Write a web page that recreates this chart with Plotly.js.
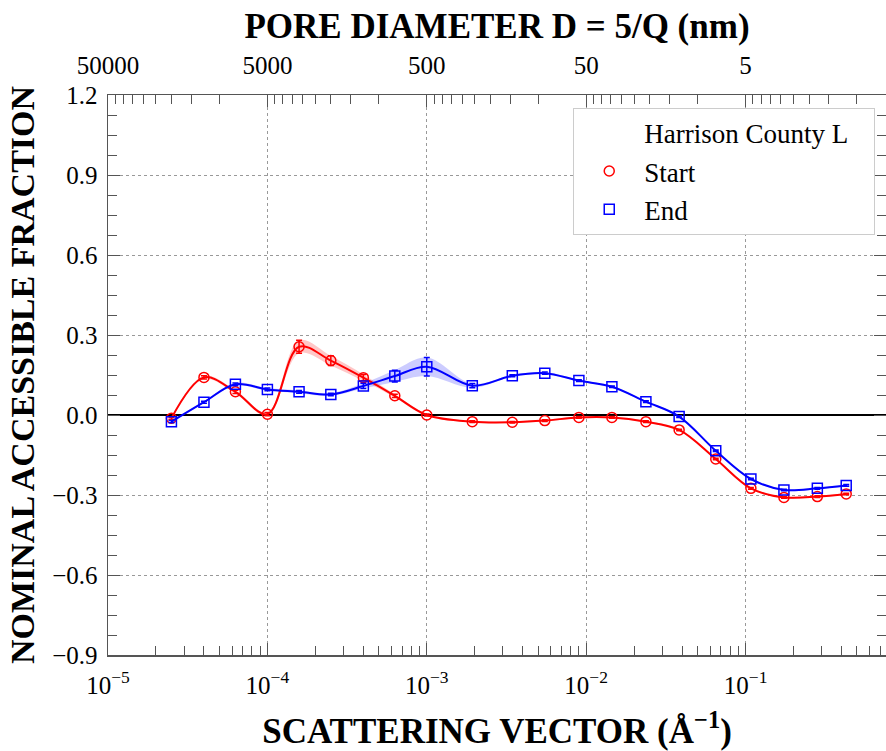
<!DOCTYPE html>
<html>
<head>
<meta charset="utf-8">
<script src="https://cdn.plot.ly/plotly-3.0.1.min.js"></script>
<style>
  html, body { margin: 0; padding: 0; background: #fff; }
  #chart { width: 886px; height: 751px; }
</style>
</head>
<body>
<div id="chart"></div>
<script>
// Scattering vector Q (1/Å) of each measured point
const qValues = [2.5e-5, 4.0e-5, 6.3e-5, 1.0e-4, 1.58e-4, 2.5e-4, 4.0e-4, 6.3e-4, 1.0e-3,
                 1.93e-3, 3.44e-3, 5.5e-3, 9.0e-3, 1.45e-2, 2.37e-2, 3.83e-2, 6.5e-2,
                 0.108, 0.174, 0.282, 0.428];

// Nominal accessible fraction, start of the experiment
const startValues = [-0.012, 0.141, 0.087, 0.003, 0.256, 0.204, 0.140, 0.072, 0.000,
                     -0.025, -0.027, -0.021, -0.009, -0.009, -0.025, -0.056, -0.165,
                     -0.275, -0.309, -0.306, -0.296];
const startErr = [0.004, 0.006, 0.006, 0.006, 0.024, 0.018, 0.012, 0.006, 0.004,
                  0.003, 0.003, 0.003, 0.003, 0.003, 0.003, 0.003, 0.003,
                  0.003, 0.003, 0.003, 0.003];

// Nominal accessible fraction, end of the experiment
const endValues = [-0.025, 0.048, 0.115, 0.096, 0.087, 0.077, 0.109, 0.146, 0.181,
                   0.110, 0.147, 0.157, 0.129, 0.106, 0.050, -0.006, -0.134,
                   -0.240, -0.281, -0.275, -0.264];
const endErr = [0.004, 0.004, 0.005, 0.005, 0.005, 0.005, 0.010, 0.022, 0.035,
                0.008, 0.004, 0.004, 0.003, 0.003, 0.003, 0.003, 0.003,
                0.003, 0.003, 0.003, 0.003];

// Axis labelling
const qTickVals = [1e-5, 1e-4, 1e-3, 1e-2, 1e-1];
const qTickText = ['10<sup>−5</sup>', '10<sup>−4</sup>', '10<sup>−3</sup>', '10<sup>−2</sup>', '10<sup>−1</sup>'];
const poreTickText = ['50000', '5000', '500', '50', '5'];
const legendHeader = 'Harrison County L';
const seriesNames = ['Start', 'End'];

const RED = '#ff0000';
const BLUE = '#0000ff';
const xRange = [-5, -0.119];

// minor ticks: bottom axis at 2..9 per decade, top axis at D = 10/k of each decade
const bottomMinor = [];
const topMinor = [];
for (let n = -5; n <= 0; n++) {
  for (let k = 2; k <= 9; k++) {
    bottomMinor.push(k * Math.pow(10, n));
    topMinor.push(Math.pow(10, n) * 10 / k);
  }
}

function band(y, err, fillcolor) {
  const lo = y.map((v, i) => v - err[i]);
  const hi = y.map((v, i) => v + err[i]);
  return [
    { x: qValues, y: lo, mode: 'lines', line: { width: 0, shape: 'spline' },
      showlegend: false, hoverinfo: 'skip' },
    { x: qValues, y: hi, mode: 'lines', line: { width: 0, shape: 'spline' },
      fill: 'tonexty', fillcolor: fillcolor, showlegend: false, hoverinfo: 'skip' }
  ];
}

function series(y, err, color, symbol) {
  return {
    x: qValues, y: y, mode: 'lines+markers', showlegend: false,
    line: { color: color, width: 2, shape: 'spline' },
    marker: { symbol: symbol, size: 10, color: color, line: { color: color, width: 1.5 } },
    error_y: { type: 'data', array: err, visible: true, color: color, thickness: 1.5, width: 3 }
  };
}

const data = [
  ...band(startValues, startErr, 'rgba(255,0,0,0.22)'),
  ...band(endValues, endErr, 'rgba(0,0,255,0.2)'),
  series(startValues, startErr, RED, 'circle-open'),
  series(endValues, endErr, BLUE, 'square-open'),
  // legend entries
  { x: [null], y: [null], xaxis: 'x2', mode: 'markers', name: legendHeader + '\u00a0\u00a0\u00a0',
    marker: { color: 'rgba(0,0,0,0)', size: 1 } },
  { x: [null], y: [null], mode: 'markers', name: seriesNames[0],
    marker: { symbol: 'circle-open', size: 10, color: RED, line: { color: RED, width: 1.5 } } },
  { x: [null], y: [null], mode: 'markers', name: seriesNames[1],
    marker: { symbol: 'square-open', size: 10, color: BLUE, line: { color: BLUE, width: 1.5 } } }
];

const axisColor = '#555';
const gridColor = '#999';
const font = 'Liberation Serif, Times New Roman, serif';

const layout = {
  width: 886, height: 751,
  margin: { l: 108, r: 0, t: 95, b: 96 },
  paper_bgcolor: '#fff', plot_bgcolor: '#fff',
  font: { family: font, color: '#000', size: 25 },
  showlegend: true,
  legend: {
    x: 0.598, y: 0.977, xanchor: 'left', yanchor: 'top',
    traceorder: 'normal',
    bgcolor: '#fff', bordercolor: '#ccc', borderwidth: 1,
    font: { family: font, size: 27, color: '#000' },
    itemwidth: 60
  },
  xaxis: {
    type: 'log', range: xRange,
    tickmode: 'array', tickvals: qTickVals, ticktext: qTickText,
    ticks: 'inside', ticklen: 12, tickwidth: 1, tickcolor: axisColor,
    ticklabelstandoff: 7,
    showline: true, linecolor: axisColor, linewidth: 1.5, mirror: false,
    showgrid: true, gridcolor: gridColor, gridwidth: 1, griddash: 'dot',
    zeroline: false,
    minor: { tickmode: 'array', tickvals: bottomMinor, ticks: 'inside', ticklen: 9,
             tickwidth: 1, tickcolor: axisColor, showgrid: false },
    tickfont: { size: 25 },
    title: { text: 'SCATTERING VECTOR (Å<sup>−1</sup>)', standoff: 23,
             font: { size: 35, weight: 'bold' } },
    automargin: false
  },
  xaxis2: {
    type: 'log', range: xRange, overlaying: 'x', side: 'top',
    tickmode: 'array', tickvals: qTickVals, ticktext: poreTickText,
    ticks: 'inside', ticklen: 12, tickwidth: 1, tickcolor: axisColor,
    ticklabelstandoff: 10,
    showline: true, linecolor: axisColor, linewidth: 1.5,
    showgrid: false, zeroline: false,
    minor: { tickmode: 'array', tickvals: topMinor, ticks: 'inside', ticklen: 9,
             tickwidth: 1, tickcolor: axisColor, showgrid: false },
    tickfont: { size: 25 },
    title: { text: 'PORE DIAMETER D = 5/Q (nm)', standoff: 2,
             font: { size: 35, weight: 'bold' } },
    automargin: false
  },
  yaxis: {
    range: [-0.9, 1.2], tick0: 0, dtick: 0.3, tickformat: '.1f',
    ticks: 'inside', ticklen: 12, tickwidth: 1, tickcolor: axisColor,
    ticklabelstandoff: 4,
    showline: true, linecolor: axisColor, linewidth: 1.5, mirror: 'ticks',
    showgrid: true, gridcolor: gridColor, gridwidth: 1, griddash: 'dot',
    zeroline: true, zerolinecolor: '#000', zerolinewidth: 2.5,
    minor: { dtick: 0.075, tick0: 0, ticks: 'inside', ticklen: 9,
             tickwidth: 1, tickcolor: axisColor, showgrid: false },
    tickfont: { size: 25 },
    title: { text: 'NOMINAL ACCESSIBLE FRACTION', standoff: 7,
             font: { size: 34, weight: 'bold' } },
    automargin: false
  }
};

Plotly.newPlot('chart', data, layout, { displayModeBar: false, staticPlot: true });
</script>
</body>
</html>
